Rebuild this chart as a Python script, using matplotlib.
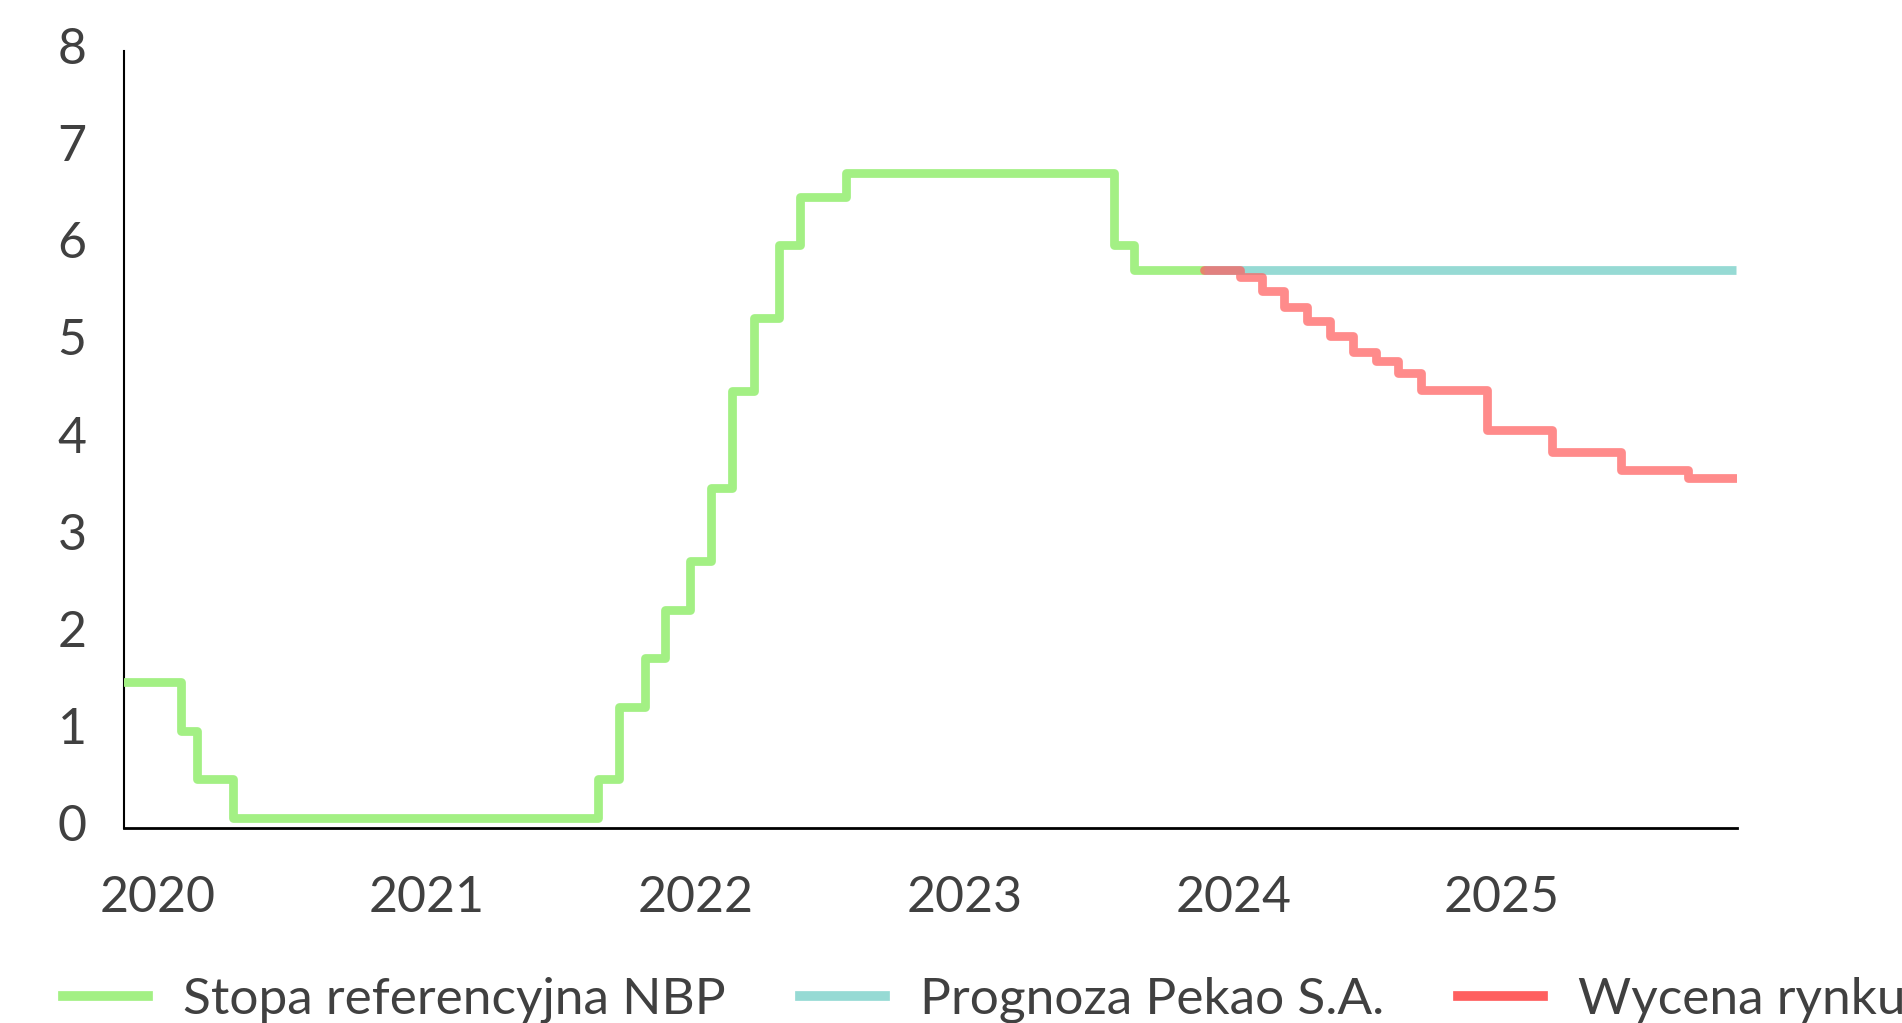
import numpy as np
import pandas as pd
import matplotlib
matplotlib.use('Agg')
import matplotlib.pyplot as plt
import matplotlib.transforms as mtransforms
from matplotlib.lines import Line2D

plt.rcParams['font.family'] = ['Lato', 'DejaVu Sans']

# Stopa referencyjna NBP - daty zmian i poziomy
nbp_dates = ['2020-01-01', '2020-03-18', '2020-04-09', '2020-05-29', '2021-10-07',
             '2021-11-04', '2021-12-09', '2022-01-05', '2022-02-09', '2022-03-09',
             '2022-04-07', '2022-05-06', '2022-06-09', '2022-07-08', '2022-09-08',
             '2023-09-07', '2023-10-05']
nbp_values = [1.5, 1.0, 0.5, 0.1, 0.5, 1.25, 1.75, 2.25, 2.75, 3.5,
              4.5, 5.25, 6.0, 6.5, 6.75, 6.0, 5.75]
nbp_end = '2024-01-08'

# Prognoza Pekao S.A.
pekao_dates = ['2024-01-08']
pekao_values = [5.75]
pekao_end = '2025-12-31'

# Wycena rynku
market_dates = ['2024-01-08', '2024-02-26', '2024-03-27', '2024-04-26', '2024-05-27',
                '2024-06-27', '2024-07-28', '2024-08-28', '2024-09-27', '2024-10-29',
                '2025-01-27', '2025-04-25', '2025-07-28', '2025-10-26']
market_values = [5.75, 5.67, 5.53, 5.37, 5.22, 5.07, 4.90, 4.81, 4.69, 4.51,
                 4.10, 3.87, 3.69, 3.60]
market_end = '2025-12-31'

years = [2020, 2021, 2022, 2023, 2024, 2025]


def to_year(dates):
    d = pd.to_datetime(pd.Series(dates))
    days = np.where(d.dt.is_leap_year, 366, 365)
    return (d.dt.year + (d.dt.dayofyear - 1) / days).to_numpy()


def series(dates, values, end):
    x = to_year(list(dates) + [end])
    y = list(values) + [values[-1]]
    return x, y


green = '#A3F084'
cyan = '#96DAD4'
red = '#FF5F5F'
txt = '#404040'

fig = plt.figure(figsize=(19.02, 10.23), dpi=100)
ax = fig.add_axes([0.0652, 0.1906, 0.848, 0.7594])

x, y = series(nbp_dates, nbp_values, nbp_end)
ax.step(x, y, where='post', color=green, lw=6.3, solid_capstyle='round',
        solid_joinstyle='round', zorder=3)
x, y = series(pekao_dates, pekao_values, pekao_end)
ax.step(x, y, where='post', color=cyan, lw=6.3, solid_capstyle='butt', zorder=4)
x, y = series(market_dates, market_values, market_end)
ax.step(x, y, where='post', color=red, alpha=0.72, lw=6.3, solid_capstyle='round',
        solid_joinstyle='round', zorder=5)

ax.set_xlim(2020, 2026)
ax.set_ylim(0, 8)
ax.set_yticks(range(0, 9))
ax.set_xticks([yr + 0.126 for yr in years])
ax.set_xticklabels([str(yr) for yr in years])
ax.tick_params(axis='both', length=0, labelsize=36, colors=txt)
ax.tick_params(axis='y', pad=27)
ax.tick_params(axis='x', pad=34)

# etykiety osi Y lekko w górę, jak w oryginale
shift = mtransforms.ScaledTranslation(0, 4 / 72, fig.dpi_scale_trans)
for lab in ax.get_yticklabels():
    lab.set_transform(lab.get_transform() + shift)

for s in ['top', 'right']:
    ax.spines[s].set_visible(False)
ax.spines['left'].set_linewidth(1.5)
ax.spines['bottom'].set_linewidth(2)
ax.spines['left'].set_color('black')
ax.spines['bottom'].set_color('black')

handles = [Line2D([], [], color=green, lw=7),
           Line2D([], [], color=cyan, lw=7),
           Line2D([], [], color=red, lw=7)]
labels = ['Stopa referencyjna NBP', 'Prognoza Pekao S.A.', 'Wycena rynku']
fig.legend(handles, labels, loc='center left', bbox_to_anchor=(0.0331, 0.0225),
           ncol=3, frameon=False, fontsize=37, labelcolor=txt,
           handlelength=1.65, handletextpad=0.68, columnspacing=1.45,
           borderpad=0, borderaxespad=0)

fig.savefig('out.png', dpi=100)
